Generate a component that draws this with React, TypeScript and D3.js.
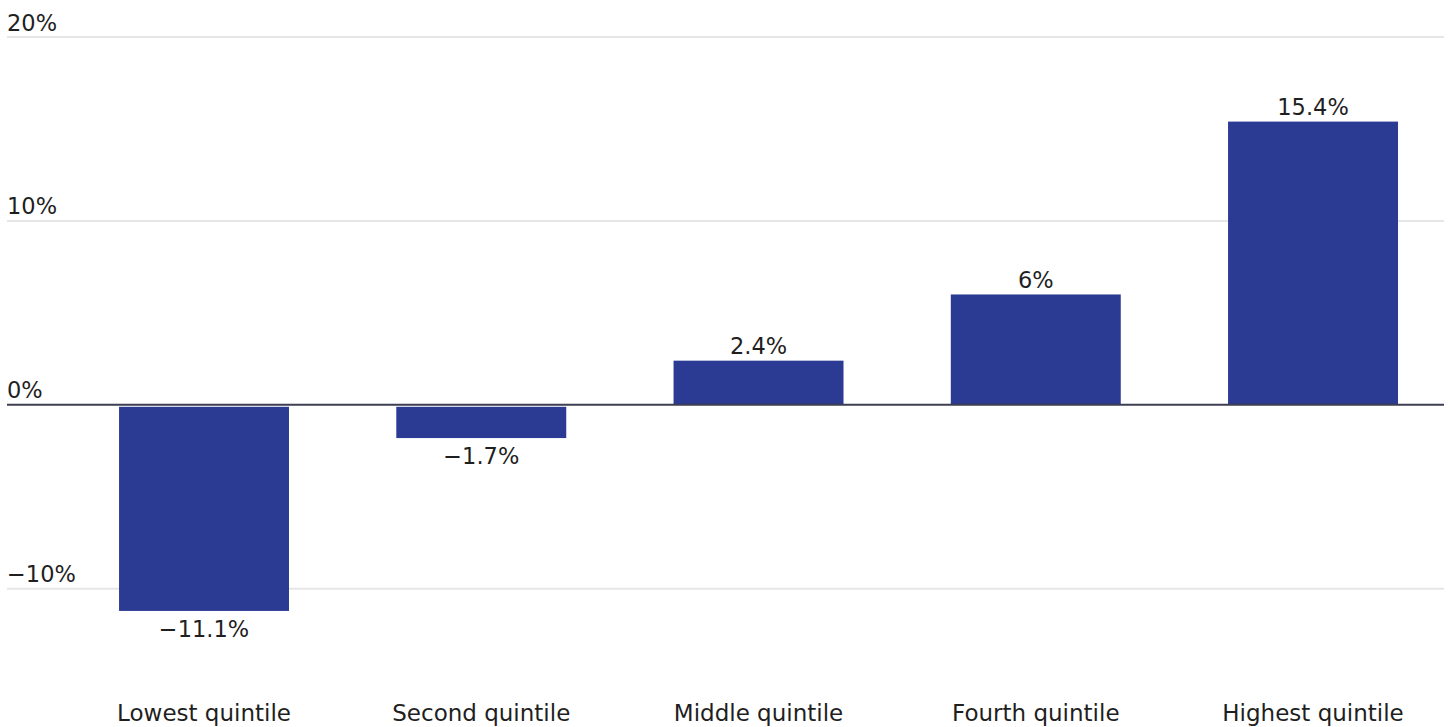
import React from "react";
import * as d3 from "d3";

// Change by income quintile
const categories = [
  "Lowest quintile",
  "Second quintile",
  "Middle quintile",
  "Fourth quintile",
  "Highest quintile",
];
const values = [-11.1, -1.7, 2.4, 6, 15.4];
const valueLabels = ["−11.1%", "−1.7%", "2.4%", "6%", "15.4%"];
const yTicks = [-10, 0, 10, 20];
const yTickLabels = ["−10%", "0%", "10%", "20%"];

const W = 1450;
const H = 727;
const FONT = "'DejaVu Sans', 'Open Sans', sans-serif";
const BAR = "#2b3a92";
const TEXT = "#1f1f1f";
const ZERO_W = 2;

export default function App() {
  const x = d3
    .scaleBand<string>()
    .domain(categories)
    .range([7, 1444])
    .paddingInner(0.387)
    .paddingOuter(0.285)
    .align(0.709);

  const y = d3.scaleLinear().domain([-10, 20]).range([588.7, 37]);
  const y0 = y(0);

  // negative bars hang below the zero rule
  const barTop = (v: number) => (v >= 0 ? y(v) : y0 + ZERO_W);
  const barBottom = (v: number) => (v >= 0 ? y0 : y(v) + ZERO_W);

  return (
    <svg
      width={W}
      height={H}
      style={{ position: "absolute", left: 0, top: 0, background: "#fff" }}
      fontFamily={FONT}
    >
      {/* grid lines and tick labels */}
      {yTicks.map((t) =>
        t === 0 ? null : (
          <line
            key={"g" + t}
            x1={7}
            x2={1444}
            y1={y(t)}
            y2={y(t)}
            stroke="#e6e6e6"
            strokeWidth={2}
          />
        )
      )}
      {yTicks.map((t, i) => (
        <text key={"t" + t} x={7} y={y(t) - 6.5} fontSize={22.5} fill={TEXT}>
          {yTickLabels[i]}
        </text>
      ))}

      {/* bars */}
      {values.map((v, i) => (
        <rect
          key={"b" + i}
          x={x(categories[i])}
          y={barTop(v)}
          width={x.bandwidth()}
          height={barBottom(v) - barTop(v)}
          fill={BAR}
        />
      ))}

      {/* zero line */}
      <line x1={7} x2={1444} y1={y0} y2={y0} stroke="#3c3e52" strokeWidth={ZERO_W} />

      {/* value labels */}
      {values.map((v, i) => {
        const cx = (x(categories[i]) as number) + x.bandwidth() / 2;
        const base = v >= 0 ? barTop(v) - 6.6 : barBottom(v) + 25.8;
        return (
          <text
            key={"v" + i}
            x={cx}
            y={base}
            textAnchor="middle"
            fontSize={22.5}
            fill={TEXT}
          >
            {valueLabels[i]}
          </text>
        );
      })}

      {/* category labels */}
      {categories.map((c) => (
        <text
          key={"c" + c}
          x={(x(c) as number) + x.bandwidth() / 2}
          y={721}
          textAnchor="middle"
          fontSize={23}
          fill={TEXT}
        >
          {c}
        </text>
      ))}
    </svg>
  );
}
